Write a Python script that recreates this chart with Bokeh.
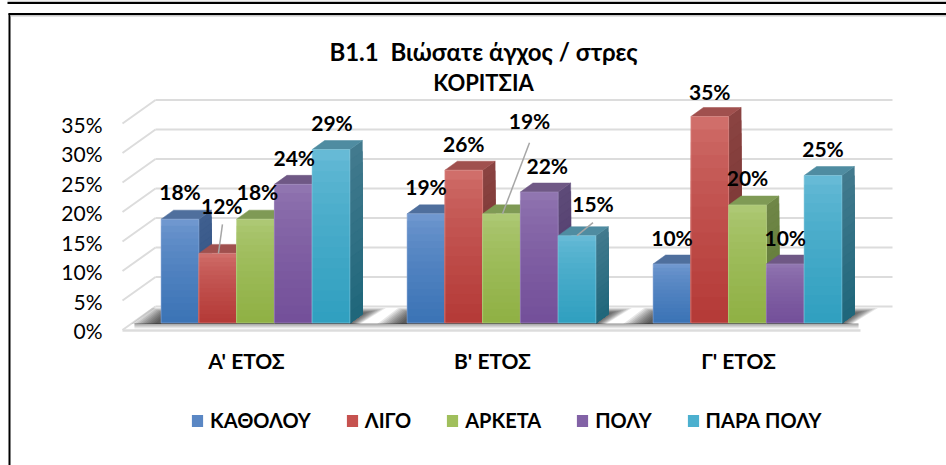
from bokeh.plotting import figure
from bokeh.embed import file_html
from bokeh.resources import INLINE
from bokeh.models import (Range1d, LinearAxis, FixedTicker, Legend, LegendItem, ColumnDataSource)
from bokeh.core.properties import value

# ---- data ----
groups = ["Α' ΕΤΟΣ", "Β' ΕΤΟΣ", "Γ' ΕΤΟΣ"]
series = ["ΚΑΘΟΛΟΥ", "ΛΙΓΟ", "ΑΡΚΕΤΑ", "ΠΟΛΥ", "ΠΑΡΑ ΠΟΛΥ"]
katholou = [17.6, 18.5, 10.0]
ligo = [11.8, 25.9, 35.0]
arketa = [17.6, 18.5, 20.0]
poly = [23.5, 22.2, 10.0]
para_poly = [29.4, 14.8, 25.0]
katholou_labels = ["18%", "19%", "10%"]
ligo_labels = ["12%", "26%", "35%"]
arketa_labels = ["18%", "19%", "20%"]
poly_labels = ["24%", "22%", "10%"]
para_poly_labels = ["29%", "15%", "25%"]
y_ticks = [0, 5, 10, 15, 20, 25, 30, 35]
y_tick_labels = ["0%", "5%", "10%", "15%", "20%", "25%", "30%", "35%"]
title_line_1 = "B1.1\u00a0\u00a0Βιώσατε άγχος / στρες"
title_line_2 = "ΚΟΡΙΤΣΙΑ"

all_values = [katholou, ligo, arketa, poly, para_poly]
all_labels = [katholou_labels, ligo_labels, arketa_labels, poly_labels, para_poly_labels]

# ---- style ----
front_top = ["#6f97cf", "#d06e6a", "#adc874", "#9075b0", "#66bad6"]
front_bot = ["#3c74b6", "#b53b38", "#90b145", "#74509a", "#31a0c0"]
edge_col = ["#8aa9d6", "#dc8e8a", "#bdd48e", "#a48fc0", "#86c8de"]
side_top = ["#3f5f8f", "#8a4341", "#6f8647", "#5d4a78", "#427a8e"]
side_bot = ["#30507f", "#70302e", "#5f7a35", "#4d3868", "#20677b"]
cap_col = ["#4f6f9d", "#a0504e", "#7f9a55", "#6f5885", "#4f8ca1"]
legend_mid = ["#5a87c4", "#c6524f", "#a0bf5c", "#8262a6", "#4cb0cf"]
# label offsets from the top of each bar's front face, pixels (series, then group)
label_dx = [[0, 0, 0], [4, 0, 0], [2, 28, 0], [1, 8, 0], [1, 16, 0]]
label_dy = [[-28, -27, -27], [-48, -27, -25], [-28, -93, -28], [-27, -27, -27], [-27, -32, -27]]
# leader lines: (series, group, start dx, start dy, end dx)
leaders = [(1, 0, 4.7, -29, 0.7), (2, 1, 28, -71, 1), (4, 1, 16, -13, 0)]

W, H = 946, 465
PX_CAT = 246.0      # pixels per category
PX_PCT = 5.9        # pixels per percent
BASE_PX = 322.5     # row of 0 % at the bars' front
FIRST_CENTER = 255.0
BAR_W = 37.75 / PX_CAT
DX = 12.5 / PX_CAT  # bar depth
DY = 9.0 / PX_PCT
X0 = 0.5 - FIRST_CENTER / PX_CAT


def X(px):
    return X0 + px / PX_CAT


def Y(px):
    return (BASE_PX - px) / PX_PCT


p = figure(width=W, height=H, output_backend="svg", toolbar_location=None,
           x_range=Range1d(X(0), X(W)), y_range=Range1d(Y(H), Y(0)),
           x_axis_type=None, y_axis_type=None, min_border=0)
p.outline_line_color = None
p.background_fill_color = "white"
p.border_fill_color = "white"
p.grid.visible = False

# outer frame lines of the page the chart came from
p.segment(x0=[X(7), X(8), X(9)], y0=[Y(2.5), Y(13.5), Y(13)], x1=[X(W), X(W), X(9)], y1=[Y(2.5), Y(13.5), Y(H)],
          line_color="black", line_width=2)
p.segment(x0=[X(7), X(10)], y0=[Y(0.7), Y(15.2)], x1=[X(W), X(W)], y1=[Y(0.7), Y(15.2)],
          line_color="#c8c8c8", line_width=1.5)

# walls and floor
GRID = "#dcdcdc"
back_y = [Y(306) + t for t in y_ticks]
front_y = [Y(329.5) + t for t in y_ticks]
p.segment(x0=[X(155)] * 8, x1=[X(892)] * 8, y0=back_y, y1=back_y, line_color=GRID, line_width=2)
p.segment(x0=[X(122)] * 8, x1=[X(155)] * 8, y0=front_y, y1=back_y, line_color=GRID, line_width=2)
p.segment(x0=[X(122)], x1=[X(860)], y0=[Y(330)], y1=[Y(330)], line_color=GRID, line_width=2.5)

# shadow band along the front of the floor
for row, col in zip([327.5, 326.5, 325.5, 324.5, 323.5], ["#ececec", "#d4d4d4", "#bcbcbc", "#a4a4a4", "#8c8c8c"]):
    p.segment(x0=[X(134)], x1=[X(858)], y0=[Y(row)], y1=[Y(row)], line_color=col, line_width=1.2)

# floor shadows behind each group
for g in range(len(groups)):
    left = g + 0.5 - 2.5 * BAR_W
    right = g + 0.5 + 2.5 * BAR_W
    for k in range(10):
        t = k * 2.6
        xs = [left - (30 - t) / PX_CAT, left - (9 - t * 0.6) / PX_CAT,
              right + (36 - t) / PX_CAT, right + (10 - t * 0.5) / PX_CAT]
        ys = [Y(BASE_PX + 1), Y(BASE_PX - 15 + k * 0.6), Y(BASE_PX - 15 + k * 0.6), Y(BASE_PX + 1)]
        p.patch(xs, ys, fill_color="black", fill_alpha=0.095, line_color=None)


def hexmix(a, b, t):
    ca = [int(a[i:i + 2], 16) for i in (1, 3, 5)]
    cb = [int(b[i:i + 2], 16) for i in (1, 3, 5)]
    return "#%02x%02x%02x" % tuple(round(x + (y - x) * t) for x, y in zip(ca, cb))


N = 16
items = []
for s, vals in enumerate(all_values):
    left = [g + 0.5 + (s - 2.5) * BAR_W for g in range(len(groups))]
    # side faces (gradient by overlapping slices)
    xs, ys, cs = [], [], []
    for i in range(N):
        f = 1 - i / N
        for g, v in enumerate(vals):
            r = left[g] + BAR_W
            t = v * f
            xs.append([r, r + DX, r + DX, r])
            ys.append([0, DY, t + DY, t])
            cs.append(hexmix(side_top[s], side_bot[s], i / (N - 1)))
    p.patches(xs, ys, fill_color=cs, line_color=cs, line_width=0.5)
    # top caps
    p.patches([[l, l + DX, l + BAR_W + DX, l + BAR_W] for l in left],
              [[v, v + DY, v + DY, v] for v in vals], fill_color=cap_col[s], line_color=cap_col[s], line_width=0.5)
    # front faces
    src = {"l": [], "r": [], "t": [], "b": [], "c": []}
    for i in range(N):
        f = 1 - i / N
        for g, v in enumerate(vals):
            src["l"].append(left[g])
            src["r"].append(left[g] + BAR_W)
            src["t"].append(v * f)
            src["b"].append(0)
            src["c"].append(hexmix(front_top[s], front_bot[s], (i / (N - 1)) ** 0.7))
    p.quad(left="l", right="r", top="t", bottom="b", fill_color="c", line_color=None,
           source=ColumnDataSource(src))
    # thin light rim of the front face
    p.quad(left=left, right=[l + BAR_W for l in left], top=vals, bottom=[0, 0, 0], fill_color=None,
           line_color=edge_col[s], line_alpha=0.6, line_width=1)
    # legend glyph: a flat swatch, not drawn in the plot
    swatch = p.quad(left=[left[0]], right=[left[0]], top=[0], bottom=[0], fill_color=legend_mid[s], line_color=None)
    items.append(LegendItem(label=series[s], renderers=[swatch]))

# leader lines
for s, g, sdx, sdy, edx in leaders:
    l = g + 0.5 + (s - 2.5) * BAR_W + BAR_W / 2
    v = all_values[s][g]
    p.line([l + sdx / PX_CAT, l + edx / PX_CAT], [v - sdy / PX_PCT, v], line_color="#a6a6a6", line_width=1.5)

# data labels
FONT = "Lato"
lx, ly, lt, ox, oy = [], [], [], [], []
for s, vals in enumerate(all_values):
    for g, v in enumerate(vals):
        lx.append(g + 0.5 + (s - 2) * BAR_W)
        ly.append(v)
        lt.append(all_labels[s][g])
        ox.append(label_dx[s][g])
        oy.append(label_dy[s][g])
p.text(x="x", y="y", text="t", x_offset="ox", y_offset="oy",
       source=ColumnDataSource(dict(x=lx, y=ly, t=lt, ox=ox, oy=oy)),
       text_font=value(FONT), text_font_style="bold", text_font_size="21px", text_color="black",
       text_align="center", text_baseline="middle")

# title
p.text(x=[X(483)], y=[Y(51)], text=[title_line_1], text_font=value(FONT), text_font_style="bold",
       text_font_size="24px", text_color="black", text_align="center", text_baseline="middle")
p.text(x=[X(483)], y=[Y(82)], text=[title_line_2], text_font=value(FONT), text_font_style="bold",
       text_font_size="22px", text_color="black", text_align="center", text_baseline="middle")

# value axis, on the front edge of the left wall
p.extra_y_ranges["wall"] = Range1d(Y(H) - Y(330), Y(0) - Y(330))
yax = LinearAxis(y_range_name="wall", fixed_location=X(113), ticker=FixedTicker(ticks=y_ticks),
                 major_label_overrides={t: l for t, l in zip(y_ticks, y_tick_labels)},
                 axis_line_color=None, major_tick_line_color=None, minor_tick_line_color=None,
                 major_label_standoff=5, major_label_text_font=FONT, major_label_text_font_size="21px",
                 major_label_text_color="black")
p.add_layout(yax, "left")

# category axis, under the floor
p.extra_x_ranges["floor"] = Range1d(X(0) + 9 / PX_CAT, X(W) + 9 / PX_CAT)
xax = LinearAxis(x_range_name="floor", fixed_location=Y(338), ticker=FixedTicker(ticks=[0.5, 1.5, 2.5]),
                 major_label_overrides={i + 0.5: g for i, g in enumerate(groups)},
                 axis_line_color=None, major_tick_line_color=None, minor_tick_line_color=None,
                 major_label_standoff=3, major_label_text_font=FONT, major_label_text_font_style="bold",
                 major_label_text_font_size="21px", major_label_text_color="black")
p.add_layout(xax, "below")

leg = Legend(items=items, orientation="horizontal", location=(190, 33), padding=0, margin=0, spacing=34,
             glyph_width=14, glyph_height=15, label_standoff=6, label_text_font=FONT,
             label_text_font_style="bold", label_text_font_size="20px", label_text_color="black",
             label_height=15, border_line_color=None, background_fill_alpha=0)
p.add_layout(leg, "center")

open("out.html", "w").write(file_html(p, INLINE))
